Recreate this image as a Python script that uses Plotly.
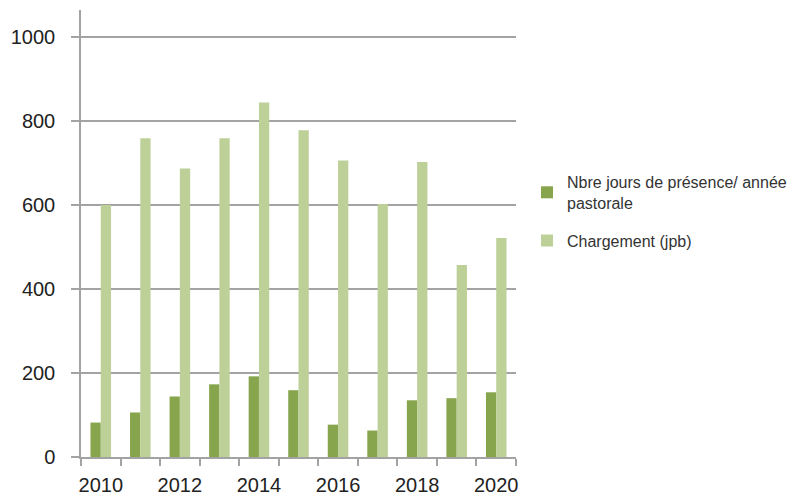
import plotly.graph_objects as go

years = [2010, 2011, 2012, 2013, 2014, 2015, 2016, 2017, 2018, 2019, 2020]
jours_presence = [82, 106, 144, 173, 192, 159, 77, 63, 135, 140, 154]
chargement = [600, 759, 687, 759, 844, 778, 706, 602, 702, 457, 521]
tick_years = [2010, 2012, 2014, 2016, 2018, 2020]
tick_labels = [str(y) for y in tick_years]

dark = "#87A54D"
light = "#BCD098"
grid = "#A3A3A3"
font = "Liberation Sans"

fig = go.Figure()
fig.add_trace(go.Bar(x=years, y=jours_presence, name="Nbre jours de présence/ année<br>pastorale",
                     legendgroup="a",
                     marker=dict(color=dark, line=dict(width=0))))
fig.add_trace(go.Bar(x=years, y=chargement, name="Chargement (jpb)",
                     legendgroup="b",
                     marker=dict(color=light, line=dict(width=0))))

# page has an 8px body margin: figure sized so it fits the 805x496 window
fig.update_layout(
    width=797, height=488,
    margin=dict(l=73, r=289, t=2, b=39, autoexpand=False),
    paper_bgcolor="white", plot_bgcolor="white",
    barmode="group", bargap=0.48, bargroupgap=0,
    font=dict(family=font, color="#222222"),
    legend=dict(x=(527 - 81) / 435, y=(457 - 165) / 447, xanchor="left", yanchor="top",
                font=dict(size=16, color="#333333"), tracegroupgap=14,
                itemwidth=30, bgcolor="rgba(0,0,0,0)"),
    xaxis=dict(range=[2009.5, 2020.5], tickvals=tick_years, ticktext=tick_labels,
               ticks="", showgrid=False, zeroline=False,
               showline=True, linecolor=grid, linewidth=1.5,
               tickfont=dict(size=20, family=font, color="#222222"),
               ticklabelstandoff=9,
               minor=dict(tick0=2009.5, dtick=1, ticks="outside", ticklen=7,
                          tickcolor=grid, tickwidth=1.5, showgrid=False)),
    yaxis=dict(range=[0, 1064], tickvals=[0, 200, 400, 600, 800, 1000],
               ticks="outside", ticklen=8, tickcolor=grid, tickwidth=1.5,
               showgrid=True, gridcolor=grid, gridwidth=1.5, zeroline=False,
               showline=True, linecolor=grid, linewidth=1.5,
               tickfont=dict(size=20, family=font, color="#222222"),
               ticklabelstandoff=12),
)

fig.write_html("out.html")
